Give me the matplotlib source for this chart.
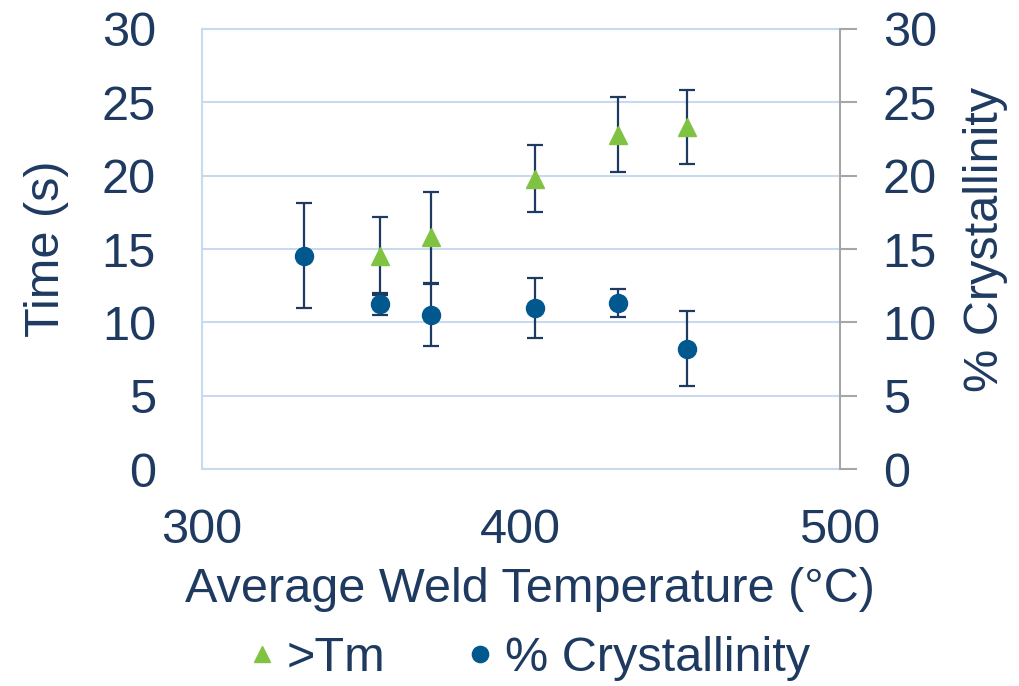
import numpy as np
import matplotlib
matplotlib.use("Agg")
import matplotlib.pyplot as plt

# Weld data: time above melt and crystallinity vs average weld temperature

temp_tm = [356, 372, 404.5, 430.5, 452]
time_tm = [14.5, 15.8, 19.8, 22.8, 23.3]
time_tm_err = [2.65, 3.1, 2.3, 2.55, 2.5]

temp_cry = [332, 356, 372, 404.5, 430.5, 452]
cryst = [14.55, 11.25, 10.5, 11.0, 11.3, 8.2]
cryst_err = [3.6, 0.75, 2.1, 2.05, 0.95, 2.55]

x_ticks = [300, 400, 500]
y_ticks = [0, 5, 10, 15, 20, 25, 30]

text_col = "#1F3A60"
green = "#80C342"
blue = "#00588E"
err_col = "#1F3A60"
grid_col = "#C9DAF0"
axis_gray = "#A6A6A6"

plt.rcParams["font.family"] = ["Liberation Sans", "DejaVu Sans"]
plt.rcParams["font.size"] = 35

fig = plt.figure(figsize=(10.19, 6.86), dpi=100)
ax1 = fig.add_axes([0.198, 0.316, 0.626, 0.642])
ax2 = ax1.twinx()

# Primary axis: time above Tm
tm = ax1.errorbar(temp_tm, time_tm, yerr=time_tm_err, fmt="^", color=green,
                  markersize=12.5, ecolor=err_col, elinewidth=1.6, capsize=6,
                  capthick=1.6, label=">Tm", zorder=3)

# Secondary axis: % crystallinity
cr = ax2.errorbar(temp_cry, cryst, yerr=cryst_err, fmt="o", color=blue,
                  markersize=13, ecolor=err_col, elinewidth=1.6, capsize=6,
                  capthick=1.6, label="% Crystallinity", zorder=3)

for ax in (ax1, ax2):
    ax.set_xlim(300, 500)
    ax.set_ylim(0, 30)
    ax.set_yticks(y_ticks)

ax1.set_xticks(x_ticks)
ax1.yaxis.grid(True, color=grid_col, linewidth=1.5)
ax1.set_axisbelow(True)

for side in ("left", "top", "bottom"):
    ax1.spines[side].set_color(grid_col)
    ax1.spines[side].set_linewidth(1.5)
    ax2.spines[side].set_visible(False)
ax1.spines["right"].set_visible(False)
ax2.spines["right"].set_color(axis_gray)
ax2.spines["right"].set_linewidth(1.5)

ax1.tick_params(axis="y", length=0, pad=33, colors=text_col)
ax1.tick_params(axis="x", length=0, pad=28, colors=text_col)
ax2.tick_params(axis="y", length=12, width=1.5, color=axis_gray,
                labelcolor=text_col, pad=19)

ax1.set_xlabel("Average Weld Temperature (°C)", color=text_col, labelpad=10)
ax1.xaxis.label.set_x(0.514)
ax1.set_ylabel("Time (s)", color=text_col)
ax1.yaxis.set_label_coords(-0.208, 0.5)
ax2.set_ylabel("% Crystallinity", color=text_col)
ax2.yaxis.set_label_coords(1.194, 0.522)

# Legend with marker-only handles
leg = fig.legend([tm.lines[0], cr.lines[0]], [">Tm", "% Crystallinity"],
                 loc="center", bbox_to_anchor=(0.521, 0.04), ncol=2,
                 frameon=False, markerscale=0.9, handlelength=0.4,
                 handletextpad=0.31, columnspacing=1.75)
for t in leg.get_texts():
    t.set_color(text_col)

fig.savefig("out.png", dpi=100)
